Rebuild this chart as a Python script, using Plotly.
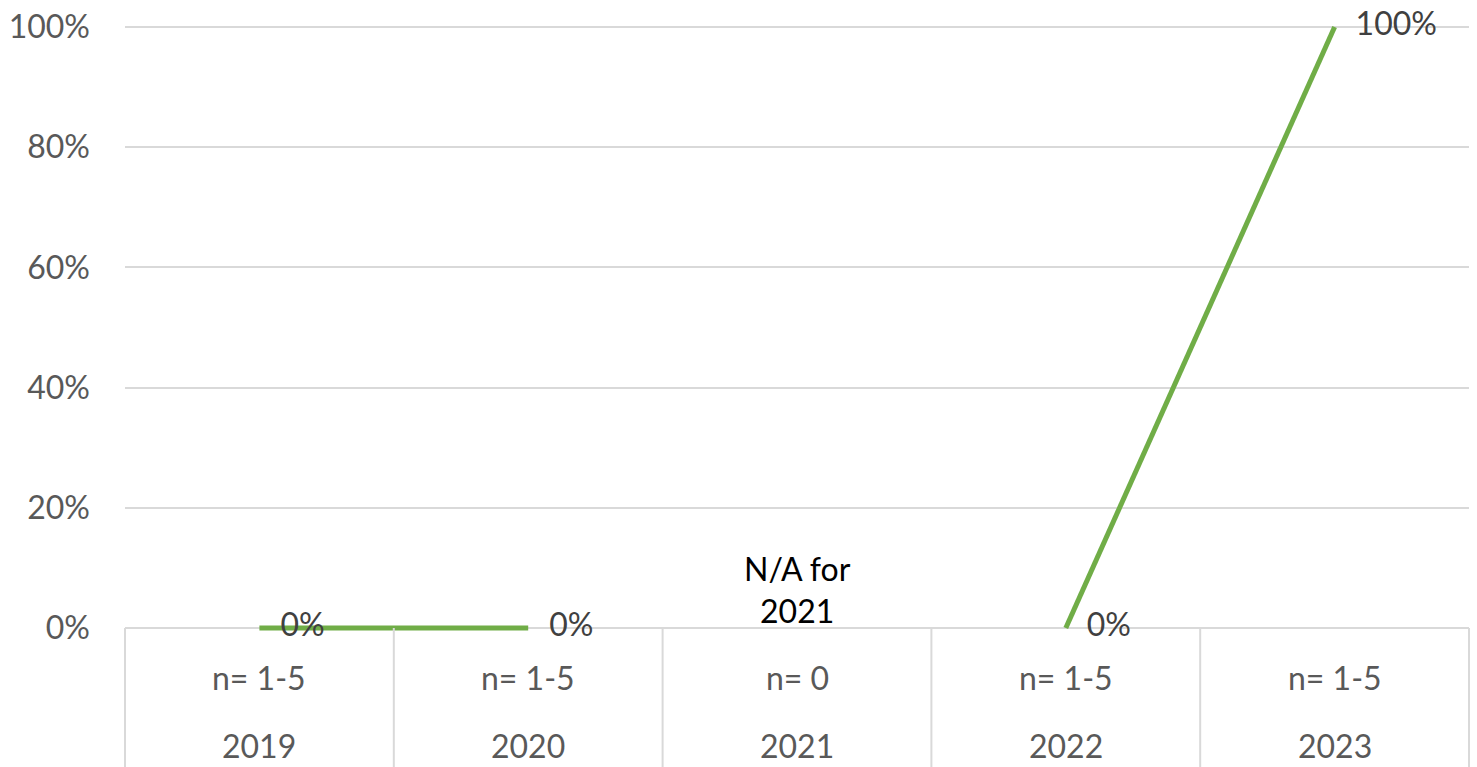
import plotly.graph_objects as go

years = ["2019", "2020", "2021", "2022", "2023"]
n_labels = ["n= 1-5", "n= 1-5", "n= 0", "n= 1-5", "n= 1-5"]
values = [0.0, 0.0, None, 0.0, 1.0]
data_labels = ["0%", "0%", "", "0%", "100%"]
y_ticks = [0, 0.2, 0.4, 0.6, 0.8, 1.0]
y_ticktext = ["0%", "20%", "40%", "60%", "80%", "100%"]
na_note = "N/A for<br>2021"

FONT = "Lato"
FS = 32
GRID = "#D9D9D9"
PAD = 0.005  # small range padding so the line at 0% is not half-clipped
x = list(range(len(years)))
ncat = len(years)

fig = go.Figure()
fig.add_trace(go.Scatter(
    x=x, y=values, mode="lines+markers+text",
    line=dict(color="#70AD47", width=5),
    marker=dict(size=32, color="rgba(0,0,0,0)"),
    text=data_labels, textposition="middle right",
    textfont=dict(family=FONT, size=FS, color="#404040"),
    connectgaps=False, cliponaxis=False, hoverinfo="skip",
))

base_frac = PAD / (1 + 2 * PAD)
shapes = []
for k in range(ncat + 1):
    shapes.append(dict(type="line", xref="paper", yref="paper",
                       x0=k / ncat, x1=k / ncat, y0=base_frac, y1=-0.25,
                       line=dict(color=GRID, width=2)))

annotations = []
for i in range(ncat):
    annotations.append(dict(x=x[i], y=0, xref="x", yref="y", yshift=-49,
                            text=n_labels[i], showarrow=False, yanchor="middle",
                            font=dict(family=FONT, size=FS, color="#595959")))
    annotations.append(dict(x=x[i], y=0, xref="x", yref="y", yshift=-117,
                            text=years[i], showarrow=False, yanchor="middle",
                            font=dict(family=FONT, size=FS, color="#595959")))
annotations.append(dict(x=x[2], y=0, xref="x", yref="y", yshift=-4,
                        text=na_note, showarrow=False, yanchor="bottom",
                        font=dict(family=FONT, size=FS, color="#000000")))

fig.update_layout(
    width=1477, height=767,
    margin=dict(l=125, r=8, t=24, b=136, autoexpand=False),
    plot_bgcolor="white", paper_bgcolor="white",
    showlegend=False,
    shapes=shapes, annotations=annotations,
    xaxis=dict(range=[-0.5, ncat - 0.5], showticklabels=False, showgrid=False,
               zeroline=False, showline=False, automargin=False),
    yaxis=dict(range=[-PAD, 1 + PAD], tickvals=y_ticks, ticktext=y_ticktext,
               showgrid=True, gridcolor=GRID, gridwidth=2,
               zeroline=True, zerolinecolor=GRID, zerolinewidth=2,
               showline=False, ticklabelstandoff=34, automargin=False,
               tickfont=dict(family=FONT, size=FS, color="#595959")),
)

fig.write_html(
    "out.html",
    config={"displayModeBar": False},
    post_script="document.body.style.margin='0';document.body.style.overflow='hidden';",
)
